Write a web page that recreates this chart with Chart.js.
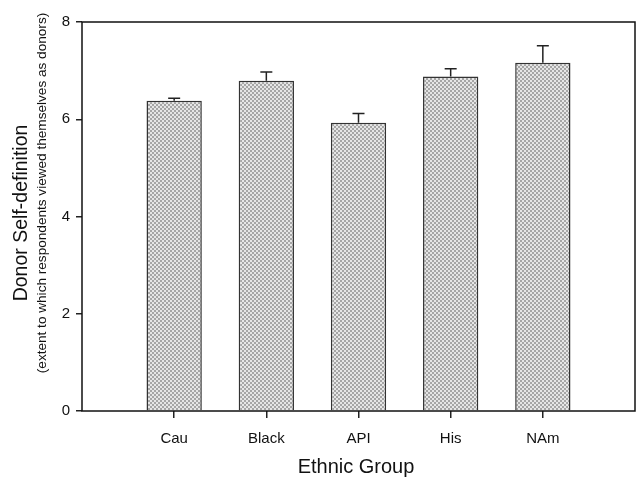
<!DOCTYPE html>
<html>
<head>
<meta charset="utf-8">
<script src="https://cdn.jsdelivr.net/npm/chart.js@4"></script>
<style>
  html, body { margin: 0; padding: 0; background: #fff; overflow: hidden; }
  #wrap { width: 636px; height: 478px; }
</style>
</head>
<body>
<div id="wrap"><canvas id="chart"></canvas></div>
<script>
var categories = ['Cau', 'Black', 'API', 'His', 'NAm'];
var means = [6.38, 6.79, 5.93, 6.88, 7.16];
var upperErrors = [0.05, 0.18, 0.19, 0.16, 0.35];
var yTicks = [0, 2, 4, 6, 8];

var yTitle = 'Donor Self-definition';
var ySubtitle = '(extent to which respondents viewed themselves as donors)';
var xTitle = 'Ethnic Group';

var FONT = '"Liberation Sans", Arial, sans-serif';

// empty slot on each side, like the original axis
var labels = [''].concat(categories).concat(['']);
var values = [null].concat(means).concat([null]);
var errs = [null].concat(upperErrors).concat([null]);

function stipple() {
  var c = document.createElement('canvas');
  c.width = 4;
  c.height = 4;
  var g = c.getContext('2d');
  g.fillStyle = '#e6e6e6';
  g.fillRect(0, 0, 4, 4);
  g.fillStyle = '#a6a6a6';
  g.fillRect(0, 0, 2, 2);
  g.fillRect(2, 2, 2, 2);
  return g.createPattern(c, 'repeat');
}

var extras = {
  id: 'extras',
  afterDatasetsDraw: function (chart) {
    var ctx = chart.ctx;
    var x = chart.scales.x;
    var y = chart.scales.y;
    var area = chart.chartArea;
    ctx.save();

    // error bars (upper only)
    ctx.strokeStyle = '#222';
    ctx.lineWidth = 1.5;
    values.forEach(function (v, i) {
      if (v === null) {
        return;
      }
      var px = x.getPixelForValue(i);
      var y0 = y.getPixelForValue(v);
      var y1 = y.getPixelForValue(v + errs[i]);
      ctx.beginPath();
      ctx.moveTo(px, y0);
      ctx.lineTo(px, y1);
      ctx.moveTo(px - 6, y1);
      ctx.lineTo(px + 6, y1);
      ctx.stroke();
    });

    // frame
    ctx.strokeStyle = '#111';
    ctx.lineWidth = 1.5;
    ctx.strokeRect(area.left, area.top, area.right - area.left, area.bottom - area.top);

    // axis titles
    ctx.fillStyle = '#111';
    ctx.textAlign = 'center';
    ctx.textBaseline = 'middle';
    ctx.font = '20px ' + FONT;
    ctx.fillText(xTitle, 356, 467);

    ctx.save();
    ctx.translate(22, 213);
    ctx.rotate(-Math.PI / 2);
    ctx.font = '19.5px ' + FONT;
    ctx.fillText(yTitle, 0, 0);
    ctx.restore();

    ctx.save();
    ctx.translate(42, 193);
    ctx.rotate(-Math.PI / 2);
    ctx.font = '13.6px ' + FONT;
    ctx.fillText(ySubtitle, 0, 0);
    ctx.restore();

    ctx.restore();
  }
};

new Chart(document.getElementById('chart'), {
  type: 'bar',
  data: {
    labels: labels,
    datasets: [{
      data: values,
      backgroundColor: stipple(),
      borderColor: '#333',
      borderWidth: 1.5,
      borderSkipped: 'bottom',
      barPercentage: 0.6,
      categoryPercentage: 1
    }]
  },
  options: {
    responsive: true,
    maintainAspectRatio: false,
    animation: false,
    layout: { padding: { top: 22, right: 1, left: 0, bottom: 0 } },
    plugins: {
      legend: { display: false },
      tooltip: { enabled: false }
    },
    scales: {
      x: {
        offset: false,
        afterFit: function (s) {
          s.height = 67;
          s.paddingLeft = 0;
          s.paddingRight = 0;
        },
        grid: {
          offset: false,
          drawOnChartArea: false,
          tickLength: 7,
          lineWidth: 1.5,
          color: function (c) {
            return labels[c.index] ? '#222' : 'rgba(0,0,0,0)';
          }
        },
        border: { display: false },
        ticks: {
          color: '#111',
          padding: 12,
          maxRotation: 0,
          autoSkip: false,
          font: { family: FONT, size: 15 }
        }
      },
      y: {
        min: 0,
        max: 8,
        afterFit: function (s) {
          s.width = 82;
          s.paddingTop = 0;
          s.paddingBottom = 0;
        },
        afterBuildTicks: function (s) {
          s.ticks = yTicks.map(function (v) { return { value: v }; });
        },
        grid: {
          drawOnChartArea: false,
          tickLength: 6,
          lineWidth: 1.5,
          color: '#222'
        },
        border: { display: false },
        ticks: {
          color: '#111',
          padding: 6,
          font: { family: FONT, size: 15 }
        }
      }
    }
  },
  plugins: [extras]
});
</script>
</body>
</html>
